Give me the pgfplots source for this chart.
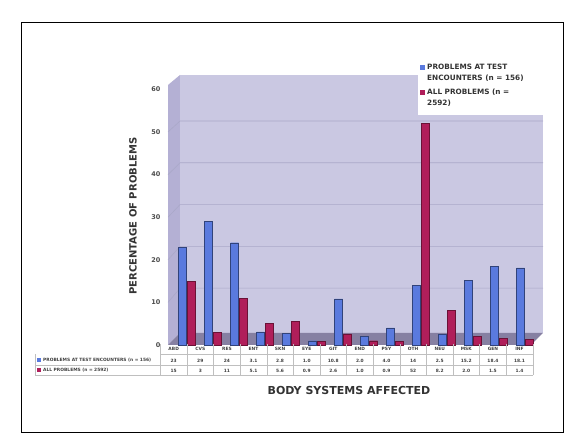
\documentclass[border=0pt]{standalone}
\usepackage{pgfplots}
\usepackage{pgfplotstable}
\pgfplotsset{compat=1.18}
\usepackage{fontspec}
\setmainfont{DejaVu Sans}
\definecolor{wall}{RGB}{202,200,226}
\definecolor{side}{RGB}{180,176,212}
\definecolor{floorc}{RGB}{134,128,162}
\definecolor{gridc}{RGB}{170,168,200}
\definecolor{bblue}{RGB}{90,122,222}
\definecolor{bred}{RGB}{176,30,90}
\pgfplotstableread{
x cat a b
0 ABD 23 15
1 CVS 29 3
2 RES 24 11
3 ENT 3.1 5.1
4 SKN 2.8 5.6
5 EYE 1.0 0.9
6 GIT 10.8 2.6
7 END 2.0 1.0
8 PSY 4.0 0.9
9 OTH 14 52
10 NEU 2.5 8.2
11 MSK 15.2 2.0
12 GEN 18.4 1.5
13 INF 18.1 1.4
}\data
\begin{document}
\begin{tikzpicture}[x=1pt,y=1pt]
\path[use as bounding box] (0,0) rectangle (582,447);
\draw[black, line width=0.6pt] (21,15) rectangle (563,425);
% 3D-look walls and floor
\fill[side] (168,102) -- (168,362) -- (180,372) -- (180,114) -- cycle;
\fill[wall] (180,114) rectangle (543,372);
\fill[floorc] (168,102) -- (180,114) -- (543,114) -- (531,102) -- cycle;
\foreach \v in {10,20,...,50} {
  \draw[gridc, line width=0.6pt] (168,102+4.26*\v) -- (180,117+4.18*\v) -- (543,117+4.18*\v);
}
\begin{axis}[at={(168pt,102pt)}, anchor=south west, scale only axis,
  width=375pt, height=260pt,
  xmin=-0.7308, xmax=13.692, ymin=0, ymax=61.03,
  axis line style={draw=none}, xtick=\empty,
  ytick={0,10,...,60}, major tick length=0pt,
  yticklabel style={font=\fontsize{6.5}{7}\selectfont\bfseries, text=black!70, xshift=-4pt},
  /pgf/number format/assume math mode=true,
  clip=false]
\addplot[ybar, bar width=8pt, bar shift=4.5pt, fill=bred, draw=bred!60!black, line width=0.4pt]
  table[x=x, y=b]{\data};
\addplot[ybar, bar width=8pt, bar shift=-4.5pt, fill=bblue, draw=bblue!55!black, line width=0.4pt]
  table[x=x, y=a]{\data};
\end{axis}
% axis titles
\node[rotate=90, font=\fontsize{10}{12}\selectfont\bfseries, text=black!80] at (133,231) {PERCENTAGE OF PROBLEMS};
\node[font=\fontsize{11}{13}\selectfont\bfseries, text=black!80] at (349,57) {BODY SYSTEMS AFFECTED};
% legend
\fill[white] (418,332) rectangle (543,391);
\fill[bblue] (420,377) rectangle (424.5,381.5);
\fill[bred] (420,352) rectangle (424.5,356.5);
\node[anchor=north west, align=left, inner sep=0pt, font=\fontsize{7.3}{11}\selectfont\bfseries, text=black!80] at (427,383.5) {PROBLEMS AT TEST\\ENCOUNTERS (n = 156)};
\node[anchor=north west, align=left, inner sep=0pt, font=\fontsize{7.3}{11}\selectfont\bfseries, text=black!80] at (427,358.5) {ALL PROBLEMS (n =\\2592)};
% data table
\foreach \k in {0,...,14} { \draw[black!25, line width=0.4pt] (160.4+26.6*\k,103) -- (160.4+26.6*\k,72); }
\draw[black!25, line width=0.4pt] (160.4,92.5) -- (532.8,92.5);
\draw[black!25, line width=0.4pt] (35,81.5) -- (532.8,81.5);
\draw[black!25, line width=0.4pt] (35,72) -- (532.8,72);
\draw[black!25, line width=0.4pt] (35,92.5) -- (35,72);
\fill[bblue] (36.5,84.5) rectangle (40.5,88.5);
\fill[bred] (36.5,74.5) rectangle (40.5,78.5);
\node[anchor=west, inner sep=0pt, font=\fontsize{4.4}{5}\selectfont\bfseries, text=black!75] at (43,86.5) {PROBLEMS AT TEST ENCOUNTERS (n = 156)};
\node[anchor=west, inner sep=0pt, font=\fontsize{4.4}{5}\selectfont\bfseries, text=black!75] at (43,76.5) {ALL PROBLEMS (n = 2592)};
\pgfplotstableforeachcolumnelement{cat}\of\data\as\cell{%
  \node[font=\fontsize{4.4}{5}\selectfont\bfseries, text=black!75] at (173.7+26.6*\pgfplotstablerow,98) {\cell};}
\pgfplotstableforeachcolumnelement{a}\of\data\as\cell{%
  \node[font=\fontsize{4.4}{5}\selectfont\bfseries, text=black!75] at (173.7+26.6*\pgfplotstablerow,86.5) {\cell};}
\pgfplotstableforeachcolumnelement{b}\of\data\as\cell{%
  \node[font=\fontsize{4.4}{5}\selectfont\bfseries, text=black!75] at (173.7+26.6*\pgfplotstablerow,76.5) {\cell};}
\end{tikzpicture}
\end{document}
